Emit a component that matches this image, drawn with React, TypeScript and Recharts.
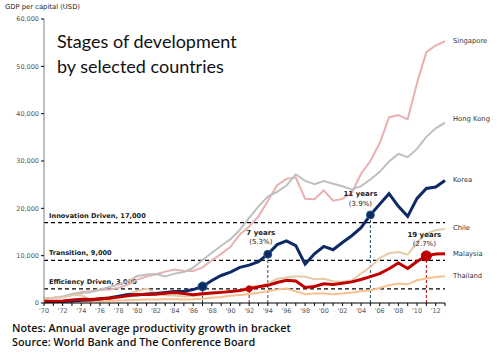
import React from 'react';
import {
  LineChart,
  Line,
  XAxis,
  YAxis,
  ReferenceLine,
  ReferenceDot,
  LabelList,
} from 'recharts';

// years on the x axis
const years = [
  1970, 1971, 1972, 1973, 1974, 1975, 1976, 1977, 1978, 1979,
  1980, 1981, 1982, 1983, 1984, 1985, 1986, 1987, 1988, 1989,
  1990, 1991, 1992, 1993, 1994, 1995, 1996, 1997, 1998, 1999,
  2000, 2001, 2002, 2003, 2004, 2005, 2006, 2007, 2008, 2009,
  2010, 2011, 2012, 2013,
];

// GDP per capita, USD
const singapore = [
  925, 1070, 1260, 1690, 2340, 2490, 2750, 2850, 3190, 3900,
  4930, 5600, 6080, 6630, 7060, 6780, 6760, 7540, 9020, 10390,
  11860, 14500, 16140, 18300, 21550, 24900, 26230, 26500, 22000, 21900,
  23800, 21600, 22000, 23300, 27300, 30000, 33800, 39200, 39700, 38800,
  46500, 53000, 54400, 55300,
];
const hongKong = [
  960, 1100, 1380, 1880, 2100, 2250, 2840, 3390, 3920, 4570,
  5700, 6000, 6130, 5600, 6210, 6540, 7440, 9070, 10600, 12100,
  13490, 15470, 17980, 20400, 22500, 23500, 24820, 27200, 25800, 25100,
  25750, 25200, 24650, 24000, 24700, 26100, 27700, 29900, 31500, 30800,
  32550, 35100, 36900, 38100,
];
const korea = [
  279, 301, 324, 407, 563, 617, 834, 1055, 1405, 1784,
  1715, 1883, 1993, 2199, 2413, 2482, 2835, 3500, 4748, 5817,
  6516, 7523, 8001, 8741, 10300, 12333, 13138, 12131, 8200, 10409,
  11948, 11253, 12789, 14219, 15908, 18600, 20888, 23100, 20431, 18300,
  22100, 24200, 24500, 25900,
];
const chile = [
  942, 1099, 1147, 1647, 1656, 693, 1008, 1306, 1436, 1854,
  2548, 3036, 2062, 1631, 1572, 1396, 1459, 1681, 1979, 2292,
  2495, 2826, 3369, 3540, 4089, 5118, 5369, 5650, 5531, 5012,
  5136, 4617, 4515, 4811, 6241, 7629, 9504, 10502, 10751, 10208,
  12808, 14637, 15352, 15700,
];
const malaysia = [
  357, 379, 445, 660, 797, 765, 884, 1027, 1240, 1549,
  1775, 1770, 1852, 2049, 2234, 2000, 1728, 1935, 2090, 2244,
  2432, 2653, 3000, 3433, 3728, 4329, 4798, 4638, 3263, 3493,
  4044, 3913, 4166, 4462, 4962, 5587, 6209, 7244, 8450, 7292,
  8754, 9950, 10350, 10400,
];
const thailand = [
  192, 199, 218, 275, 334, 352, 389, 441, 526, 594,
  683, 718, 738, 790, 805, 737, 800, 923, 1109, 1283,
  1508, 1715, 1925, 2183, 2471, 2846, 3044, 2467, 1846, 2033,
  1983, 1837, 2003, 2232, 2479, 2709, 3174, 3760, 4108, 3947,
  4803, 5192, 5480, 5650,
];

const yTicks = [0, 10000, 20000, 30000, 40000, 50000, 60000];

const thresholds = [
  { value: 17000, text: 'Innovation Driven, 17,000' },
  { value: 9000, text: 'Transition, 9,000' },
  { value: 3000, text: 'Efficiency Driven, 3,000' },
];

const data = years.map((year, i) => ({
  year,
  singapore: singapore[i],
  hongKong: hongKong[i],
  korea: korea[i],
  chile: chile[i],
  malaysia: malaysia[i],
  thailand: thailand[i],
}));

const last = years.length - 1;
const tickFont = 'DejaVu Sans, sans-serif';
const navy = '#0e2a66';
const red = '#c00000';

function ThresholdLabel(props: any) {
  const { viewBox, text } = props;
  return (
    <text
      x={49}
      y={viewBox.y - 5}
      fontSize={6.6}
      fontWeight={600}
      fontFamily={tickFont}
      fill="#1a1a1a"
    >
      {text}
    </text>
  );
}

function EndLabel(name: string, dy: number) {
  return (props: any) => {
    if (props.index !== last) return null;
    return (
      <text
        x={props.x + 8}
        y={props.y + dy}
        fontSize={6.8}
        fontFamily={tickFont}
        fill="#333"
        dominantBaseline="middle"
      >
        {name}
      </text>
    );
  };
}

function Note(props: any) {
  const { viewBox, top, bottom, dx, dy1, dy2 } = props;
  const cx = viewBox.x + viewBox.width / 2 + dx;
  const cy = viewBox.y + viewBox.height / 2;
  return (
    <g fontFamily={tickFont} fontSize={7} fill="#222" textAnchor="middle">
      <text x={cx} y={cy + dy1} fontWeight={700}>{top}</text>
      <text x={cx} y={cy + dy2}>{bottom}</text>
    </g>
  );
}

export default function App() {
  return (
    <div style={{ position: 'absolute', left: 0, top: 0, width: 500, height: 355, background: '#fff' }}>
      <LineChart
        width={500}
        height={355}
        data={data}
        margin={{ top: 19, right: 55, left: 4, bottom: 32 }}
      >
        <XAxis
          dataKey="year"
          type="number"
          domain={[1970, 2013]}
          ticks={years}
          interval={0}
          tickFormatter={(v: number) => (v % 2 === 0 && v < 2013 ? "'" + String(v).slice(2) : '')}
          tick={{ fontSize: 6.5, fill: '#555', fontFamily: tickFont }}
          tickSize={3}
          height={20}
          stroke="#000"
        />
        <YAxis
          domain={[0, 60000]}
          ticks={yTicks}
          tickFormatter={(v: number) => v.toLocaleString('en-US')}
          tick={{ fontSize: 6.5, fill: '#555', fontFamily: tickFont }}
          tickSize={3}
          width={40}
          axisLine={{ stroke: '#808080' }}
          tickLine={{ stroke: '#000' }}
        />
        {thresholds.map((t) => (
          <ReferenceLine
            key={t.value}
            y={t.value}
            stroke="#000"
            strokeWidth={1.3}
            strokeDasharray="4 3"
            label={<ThresholdLabel text={t.text} />}
          />
        ))}
        <ReferenceLine segment={[{ x: 1987, y: 0 }, { x: 1987, y: korea[17] }]} stroke="#1f5060" strokeDasharray="3 2" />
        <ReferenceLine segment={[{ x: 1994, y: 0 }, { x: 1994, y: korea[24] }]} stroke="#1f5060" strokeDasharray="3 2" />
        <ReferenceLine segment={[{ x: 2005, y: 0 }, { x: 2005, y: korea[35] }]} stroke="#1f5060" strokeDasharray="3 2" />
        <ReferenceLine segment={[{ x: 1992, y: 0 }, { x: 1992, y: malaysia[22] }]} stroke={red} strokeDasharray="3 2" />
        <ReferenceLine segment={[{ x: 2011, y: 0 }, { x: 2011, y: malaysia[41] }]} stroke={red} strokeDasharray="3 2" />
        <Line dataKey="singapore" stroke="#e8b0b0" strokeWidth={2} dot={false} isAnimationActive={false}>
          <LabelList content={EndLabel('Singapore', 0)} />
        </Line>
        <Line dataKey="hongKong" stroke="#bfbfbf" strokeWidth={2} dot={false} isAnimationActive={false}>
          <LabelList content={EndLabel('Hong Kong', -4)} />
        </Line>
        <Line dataKey="chile" stroke="#e2cca8" strokeWidth={2} dot={false} isAnimationActive={false}>
          <LabelList content={EndLabel('Chile', -1)} />
        </Line>
        <Line dataKey="thailand" stroke="#f9c08e" strokeWidth={2} dot={false} isAnimationActive={false}>
          <LabelList content={EndLabel('Thailand', 0)} />
        </Line>
        <Line dataKey="korea" stroke={navy} strokeWidth={3} dot={false} isAnimationActive={false}>
          <LabelList content={EndLabel('Korea', 0)} />
        </Line>
        <Line dataKey="malaysia" stroke={red} strokeWidth={3} dot={false} isAnimationActive={false}>
          <LabelList content={EndLabel('Malaysia', 0)} />
        </Line>
        <ReferenceDot x={1987} y={korea[17]} r={4.5} fill={navy} stroke="#2e5f86" strokeWidth={1} />
        <ReferenceDot
          x={1994}
          y={korea[24]}
          r={4}
          fill={navy}
          stroke="#2e5f86"
          strokeWidth={1}
          label={<Note top="7 years" bottom="(5.3%)" dx={-7} dy1={-19} dy2={-10} />}
        />
        <ReferenceDot
          x={2005}
          y={korea[35]}
          r={4}
          fill={navy}
          stroke="#2e5f86"
          strokeWidth={1}
          label={<Note top="11 years" bottom="(3.9%)" dx={-10} dy1={-19} dy2={-9} />}
        />
        <ReferenceDot x={1992} y={malaysia[22]} r={3} fill={red} stroke={red} />
        <ReferenceDot
          x={2011}
          y={malaysia[41]}
          r={5}
          fill={red}
          stroke={red}
          label={<Note top="19 years" bottom="(2.7%)" dx={-2} dy1={-19} dy2={-10} />}
        />
      </LineChart>
      <div style={{ position: 'absolute', left: 5, top: 3, fontFamily: tickFont, fontSize: 6.8, color: '#222' }}>
        GDP per capital (USD)
      </div>
      <div
        style={{
          position: 'absolute',
          left: 57,
          top: 29,
          fontFamily: 'Lato, sans-serif',
          fontSize: 18,
          lineHeight: '25px',
          color: '#111',
        }}
      >
        Stages of development
        <br />
        by selected countries
      </div>
      <div
        style={{
          position: 'absolute',
          left: 12,
          top: 321,
          fontFamily: '"Open Sans", sans-serif',
          fontWeight: 600,
          fontSize: 10.8,
          lineHeight: '14px',
          color: '#111',
        }}
      >
        Notes: Annual average productivity growth in bracket
        <br />
        Source: World Bank and The Conference Board
      </div>
    </div>
  );
}
